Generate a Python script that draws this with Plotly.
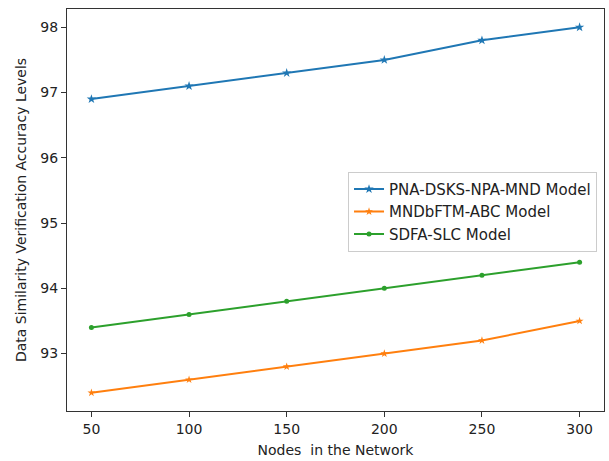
import plotly.graph_objects as go

nodes = [50, 100, 150, 200, 250, 300]
pna = [96.9, 97.1, 97.3, 97.5, 97.8, 98.0]
mnd = [92.4, 92.6, 92.8, 93.0, 93.2, 93.5]
sdfa = [93.4, 93.6, 93.8, 94.0, 94.2, 94.4]
names = ["PNA-DSKS-NPA-MND Model", "MNDbFTM-ABC Model", "SDFA-SLC Model"]
colors = ["#1f77b4", "#ff7f0e", "#2ca02c"]
symbols = ["star", "star", "circle"]
sizes = [7, 6, 5]

fig = go.Figure()
for ys, n, c, s, sz in zip([pna, mnd, sdfa], names, colors, symbols, sizes):
    fig.add_trace(go.Scatter(x=nodes, y=ys, name=n, mode="lines+markers",
                             line=dict(color=c, width=2),
                             marker=dict(symbol=s, size=sz, color=c)))

font = "DejaVu Sans"
axis_common = dict(showgrid=False, zeroline=False, showline=True, mirror=True,
                   linecolor="#333333", linewidth=1, ticks="outside", ticklen=5,
                   tickcolor="#333333", tickfont=dict(family=font, size=14, color="#222222"))
fig.update_layout(
    width=609, height=461,
    margin=dict(l=67, r=5, t=9, b=50),
    plot_bgcolor="white", paper_bgcolor="white",
    font=dict(family=font, size=14, color="#222222"),
    xaxis=dict(range=[37.5, 312.5], tickvals=nodes,
               title=dict(text="Nodes  in the Network", font=dict(family=font, size=14), standoff=9),
               **axis_common),
    yaxis=dict(range=[92.12, 98.28], tickvals=[93, 94, 95, 96, 97, 98],
               title=dict(text="Data Similarity Verification Accuracy Levels", font=dict(family=font, size=14), standoff=10),
               **axis_common),
    legend=dict(x=0.987, y=0.595, xanchor="right", yanchor="top",
                bgcolor="rgba(255,255,255,0.8)", bordercolor="#cccccc", borderwidth=1,
                font=dict(family=font, size=15), tracegroupgap=0, itemwidth=30),
    showlegend=True,
)
fig.write_html("out.html")
